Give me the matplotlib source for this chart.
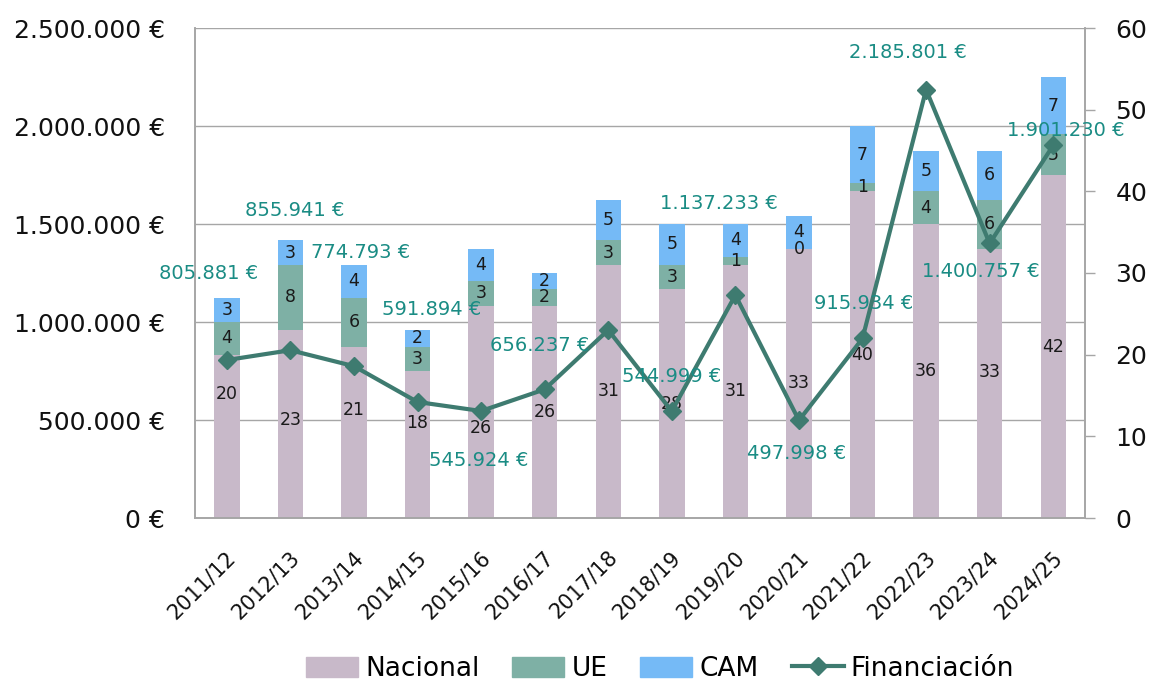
import matplotlib
matplotlib.use("Agg")
import matplotlib.pyplot as plt
import matplotlib.transforms as mtransforms
from matplotlib.patches import Patch
from matplotlib.lines import Line2D
import numpy as np

plt.rcParams['font.family'] = ['DejaVu Sans']

years = ['2011/12', '2012/13', '2013/14', '2014/15', '2015/16', '2016/17', '2017/18',
         '2018/19', '2019/20', '2020/21', '2021/22', '2022/23', '2023/24', '2024/25']
nacional = [20, 23, 21, 18, 26, 26, 31, 28, 31, 33, 40, 36, 33, 42]
ue = [4, 8, 6, 3, 3, 2, 3, 3, 1, 0, 1, 4, 6, 5]
cam = [3, 3, 4, 2, 4, 2, 5, 5, 4, 4, 7, 5, 6, 7]
financiacion = [805881, 855941, 774793, 591894, 545924, 656237, 959000,
                544999, 1137233, 497998, 915934, 2185801, 1400757, 1901230]
show_fin_label = [True, True, True, True, True, True, False,
                  True, True, True, True, True, True, True]

# label offsets (pixels) for the financing labels, and nudges for Nacional labels
fin_offsets = [(-18, 87), (4, 140), (7, 114), (14, 92), (-2, -50), (-5, 44), (0, 0),
               (0, 35), (-16, 92), (-2, -33), (1, 35), (-18, 37), (-9, -28), (13, 15)]
nac_nudge = [42, 4, 22, 22, -16, 0, 0, 0, 0, 0, 0, 0, 11, 0]

C_NAC = '#C8B9C9'
C_UE = '#7EB0A5'
C_CAM = '#75BAF6'
C_LINE = '#3E7B70'
C_LBL = '#1A8C84'
C_AX = '#A6A6A6'

W, H = 1159, 682
fig = plt.figure(figsize=(W / 100, H / 100), dpi=100)
ax = fig.add_axes([195 / W, 1 - 518 / H, (1085 - 195) / W, (518 - 28) / H])
axl = ax.twinx()

x = np.arange(len(years))
nac = np.array(nacional)
uea = np.array(ue)
cama = np.array(cam)

# bars on count axis (right side)
ax.bar(x, nac, 0.4, color=C_NAC, zorder=2)
ax.bar(x, uea, 0.4, bottom=nac, color=C_UE, zorder=2)
ax.bar(x, cama, 0.4, bottom=nac + uea, color=C_CAM, zorder=2)

ax.set_ylim(0, 60)
ax.set_xlim(-0.5, len(years) - 0.5)
axl.set_ylim(0, 2500000)

# gridlines matching left-axis ticks
left_ticks = np.arange(0, 2500001, 500000)
for v in left_ticks[1:]:
    ax.axhline(v / 2500000 * 60, color=C_AX, lw=1.0, zorder=0)

# segment labels
for i in range(len(years)):
    ax.annotate(str(nacional[i]), (x[i], nac[i] / 2), xytext=(0, nac_nudge[i]),
                textcoords='offset pixels', ha='center', va='center', fontsize=12.5,
                color='#1a1a1a', zorder=3)
    ax.text(x[i], nac[i] + uea[i] / 2, str(ue[i]), ha='center', va='center',
            fontsize=12.5, color='#1a1a1a', zorder=3)
    ax.text(x[i], nac[i] + uea[i] + cama[i] / 2, str(cam[i]), ha='center', va='center',
            fontsize=12.5, color='#1a1a1a', zorder=3)

# line on euro axis
axl.plot(x, financiacion, color=C_LINE, lw=3, marker='D', markersize=9, zorder=5)
for i, v in enumerate(financiacion):
    if show_fin_label[i]:
        s = f"{v:,}".replace(',', '.') + " €"
        axl.annotate(s, (x[i], v), xytext=fin_offsets[i], textcoords='offset pixels',
                     ha='center', va='center', fontsize=14, color=C_LBL, zorder=6)

# axes styling
ax.yaxis.tick_right()
ax.yaxis.set_label_position('right')
axl.yaxis.tick_left()
axl.yaxis.set_label_position('left')
ax.set_yticks(range(0, 61, 10))
ax.tick_params(axis='y', which='major', labelsize=18, length=7, width=1, color=C_AX,
               direction='out', labelcolor='#111111', right=True, labelright=True,
               left=False, labelleft=False)
for t in ax.yaxis.get_major_ticks():
    t.set_pad(15)
axl.set_yticks(left_ticks)
axl.set_yticklabels([f"{int(v):,}".replace(',', '.') + " €" for v in left_ticks])
axl.tick_params(axis='y', labelsize=18, length=0, pad=21.5, labelcolor='#111111')

ax.set_xticks(x)
ax.set_xticklabels(years, rotation=45, ha='right', va='center', rotation_mode='anchor',
                   fontsize=15, color='#111111')
ax.tick_params(axis='x', length=0, pad=26)
offset = mtransforms.ScaledTranslation(6 / 100, 0, fig.dpi_scale_trans)
for lbl in ax.get_xticklabels():
    lbl.set_transform(lbl.get_transform() + offset)

for a in (ax, axl):
    a.spines['top'].set_visible(False)
    for s in ('left', 'right', 'bottom'):
        a.spines[s].set_color(C_AX)
        a.spines[s].set_linewidth(1.2)
axl.patch.set_visible(False)

handles = [Patch(color=C_NAC), Patch(color=C_UE), Patch(color=C_CAM),
           Line2D([0], [0], color=C_LINE, lw=3, marker='D', markersize=9)]
fig.legend(handles, ['Nacional', 'UE', 'CAM', 'Financiación'], loc='center',
           bbox_to_anchor=(660 / W, 1 - 669 / H), ncol=4, frameon=False, fontsize=19,
           handlelength=1.97, handleheight=0.8, handletextpad=0.27, columnspacing=1.25)

fig.savefig('out.png', dpi=100)
